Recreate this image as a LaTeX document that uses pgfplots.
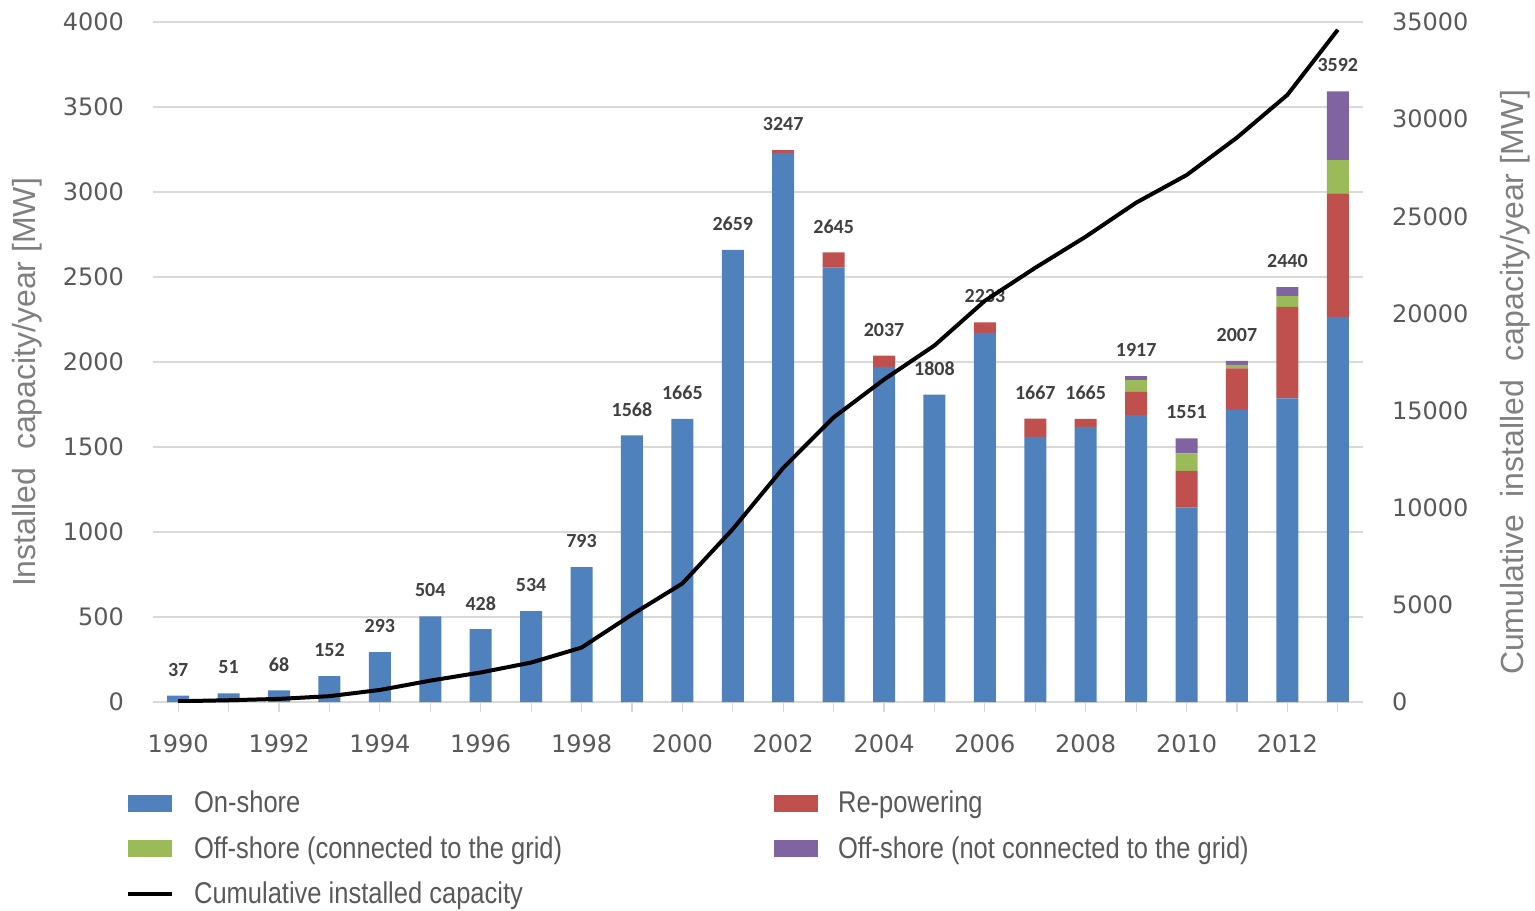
\documentclass[border=0pt]{standalone}
\usepackage{pgfplots}
\pgfplotsset{compat=1.18}
\usepackage{pgfplotstable}
\usepackage{fontspec}
\setmainfont{Liberation Sans}
\newfontfamily\tickfont{DejaVu Sans}
\newfontfamily\legfont[FakeStretch=0.85]{Liberation Sans}
\newfontfamily\labfont{Carlito}
\definecolor{cOn}{HTML}{4F81BD}
\definecolor{cRe}{HTML}{C0504D}
\definecolor{cOffC}{HTML}{9BBB59}
\definecolor{cOffN}{HTML}{8064A2}
\definecolor{tickgray}{HTML}{595959}
\definecolor{labgray}{HTML}{808080}
\definecolor{gridgray}{HTML}{D9D9D9}
\definecolor{dlab}{HTML}{404040}

\pgfplotstableread{
year on re offc offn total cum
1990 37 0 0 0 37 40
1991 51 0 0 0 51 90
1992 68 0 0 0 68 160
1993 152 0 0 0 152 300
1994 293 0 0 0 293 620
1995 504 0 0 0 504 1100
1996 428 0 0 0 428 1520
1997 534 0 0 0 534 2030
1998 793 0 0 0 793 2800
1999 1568 0 0 0 1568 4500
2000 1665 0 0 0 1665 6100
2001 2659 0 0 0 2659 8900
2002 3230 17 0 0 3247 12050
2003 2555 90 0 0 2645 14650
2004 1971 66 0 0 2037 16600
2005 1808 0 0 0 1808 18350
2006 2171 62 0 0 2233 20650
2007 1559 108 0 0 1667 22350
2008 1618 47 0 0 1665 23950
2009 1688 137 69 23 1917 25700
2010 1143 216 104 88 1551 27120
2011 1718 245 20 24 2007 29050
2012 1786 539 63 52 2440 31250
2013 2266 726 196 404 3592 34600
}\data

\begin{document}
\begin{tikzpicture}
\useasboundingbox (-76.5pt,-104pt) rectangle (691pt,351pt);
\begin{axis}[
  scale only axis, width=605pt, height=340pt,
  xmin=1989.5, xmax=2013.5, ymin=0, ymax=4000,
  ybar stacked, bar width=11pt,
  axis x line*=bottom, axis y line*=left,
  x axis line style={draw=gridgray, line width=0.8pt, -},
  y axis line style={draw=none},
  ytick={0,500,...,4000}, ytick style={draw=none},
  ymajorgrids, grid style={draw=gridgray, line width=0.8pt},
  xtick={1990,1992,...,2012}, minor xtick={1991,1993,...,2013},
  xtick align=outside, major tick length=5pt, minor tick length=5pt,
  xtick style={draw=gridgray, line width=0.6pt},
  minor x tick style={draw=gridgray, line width=0.6pt},
  /pgf/number format/1000 sep={},
  /pgf/number format/assume math mode=true,
  scaled y ticks=false,
  tick label style={font=\tickfont\fontsize{12}{14}\selectfont, text=tickgray},
  yticklabel style={xshift=-11pt},
  xticklabel style={yshift=-8pt},
  ylabel={Installed\ \ capacity/year [MW]},
  every axis y label/.style={at={(-0.104,0.47)}, rotate=90, anchor=center,
     font=\fontsize{16}{18}\selectfont, text=labgray},
  legend columns=2,
  legend cell align=left,
  legend style={draw=none, fill=none, at={(-0.0275,-0.118)}, anchor=north west,
     font=\legfont\fontsize{15}{17}\selectfont, text=tickgray,
     row sep=6.5pt,
     /tikz/every odd column/.append style={column sep=8pt}},
]
\addplot[fill=cOn, draw=none,
  legend image code/.code={\fill[cOn] (0pt,-4.25pt) rectangle (22pt,4.25pt);}]
  table[x=year, y=on]{\data};
\addlegendentry{\makebox[288pt][l]{On-shore}}
\addplot[fill=cRe, draw=none,
  legend image code/.code={\fill[cRe] (0pt,-4.25pt) rectangle (22pt,4.25pt);}]
  table[x=year, y=re]{\data};
\addlegendentry{Re-powering}
\addplot[fill=cOffC, draw=none,
  legend image code/.code={\fill[cOffC] (0pt,-4.25pt) rectangle (22pt,4.25pt);}]
  table[x=year, y=offc]{\data};
\addlegendentry{\makebox[288pt][l]{Off-shore (connected to the grid)}}
\addplot[fill=cOffN, draw=none,
  legend image code/.code={\fill[cOffN] (0pt,-4.25pt) rectangle (22pt,4.25pt);}]
  table[x=year, y=offn]{\data};
\addlegendentry{Off-shore (not connected to the grid)}
\addlegendimage{black, line width=2pt,
  legend image code/.code={\draw[black, line width=2pt] (0pt,0pt) -- (22pt,0pt);}}
\addlegendentry{\makebox[288pt][l]{Cumulative installed capacity}}
\end{axis}
% totals above the bars (same scale as the left axis)
\begin{axis}[
  scale only axis, width=605pt, height=340pt,
  xmin=1989.5, xmax=2013.5, ymin=0, ymax=4000,
  axis lines=none, ticks=none, clip=false,
]
\addplot[draw=none, mark=none, nodes near coords, point meta=explicit symbolic,
  every node near coord/.append style={anchor=center, yshift=13pt,
     font=\labfont\bfseries\fontsize{10}{11}\selectfont, text=dlab}]
  table[x=year, y=total, meta=total]{\data};
\end{axis}
\begin{axis}[
  scale only axis, width=605pt, height=340pt,
  xmin=1989.5, xmax=2013.5, ymin=0, ymax=35000,
  axis x line=none, axis y line*=right,
  y axis line style={draw=none},
  ytick={0,5000,...,35000}, ytick style={draw=none},
  /pgf/number format/1000 sep={},
  /pgf/number format/assume math mode=true,
  scaled y ticks=false,
  tick label style={font=\tickfont\fontsize{12}{14}\selectfont, text=tickgray},
  yticklabel style={xshift=11pt},
  ylabel={Cumulative\ \ installed\ \ capacity/year [MW]},
  every axis y label/.style={at={(1.1256,0.47)}, rotate=90, anchor=center,
     font=\fontsize{16}{18}\selectfont, text=labgray},
]
\addplot[black, line width=2pt, line join=round, mark=none]
  table[x=year, y=cum]{\data};
\end{axis}
\end{tikzpicture}
\end{document}
